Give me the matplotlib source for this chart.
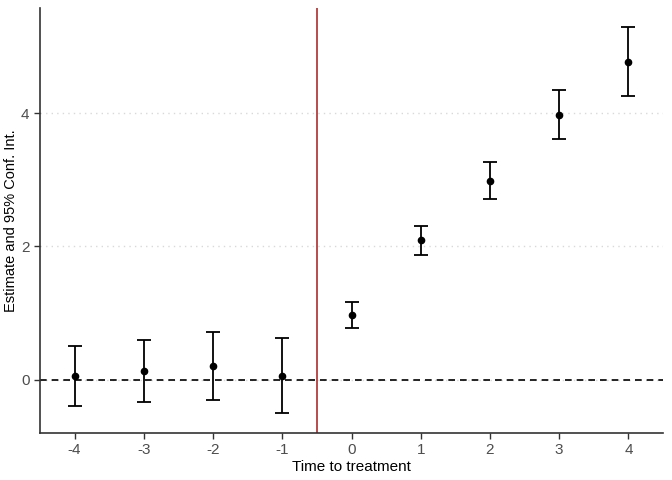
import matplotlib
matplotlib.use("Agg")
import matplotlib.pyplot as plt
import numpy as np

time_to_treatment = [-4, -3, -2, -1, 0, 1, 2, 3, 4]
estimate = [0.055, 0.125, 0.20, 0.055, 0.97, 2.09, 2.99, 3.98, 4.77]
ci_low = [-0.39, -0.34, -0.30, -0.50, 0.78, 1.87, 2.71, 3.61, 4.26]
ci_high = [0.51, 0.59, 0.71, 0.62, 1.17, 2.30, 3.27, 4.35, 5.29]
y_ticks = [0, 2, 4]

plt.rcParams['font.family'] = ['Liberation Sans', 'DejaVu Sans']

fig = plt.figure(figsize=(6.72, 4.8), dpi=100)
ax = fig.add_axes([40/672, 47/480, 623/672, 425/480])

est = np.array(estimate)
lo = np.array(ci_low)
hi = np.array(ci_high)
ax.errorbar(time_to_treatment, est, yerr=[est - lo, hi - est], fmt='o', color='black',
            ms=4.5, elinewidth=1.3, capsize=4.8, capthick=1.3, zorder=3)

ax.axhline(0, color='black', linestyle=(0, (4, 3)), linewidth=1.2, zorder=2)
ax.axvline(-0.5, color='#A31B1B', linewidth=1.1, zorder=2)

ax.set_xlim(-4.5, 4.5)
ax.set_ylim(-0.80, 5.58)
ax.set_xticks(time_to_treatment)
ax.set_xticklabels([str(t) for t in time_to_treatment])
ax.set_yticks(y_ticks)
ax.grid(axis='y', color='#d9d9d9', linestyle=(0, (1, 3)), linewidth=1.0)
ax.set_axisbelow(True)

for s in ['top', 'right']:
    ax.spines[s].set_visible(False)
for s in ['left', 'bottom']:
    ax.spines[s].set_linewidth(1.2)
    ax.spines[s].set_color('#333333')

ax.tick_params(axis='both', colors='#333333', labelcolor='#4d4d4d', labelsize=11,
               length=4, width=1.0)
ax.set_xlabel('Time to treatment', fontsize=11, labelpad=2)
ax.set_ylabel('Estimate and 95% Conf. Int.', fontsize=10.5, labelpad=2.5)

fig.savefig('out.png', dpi=100)
